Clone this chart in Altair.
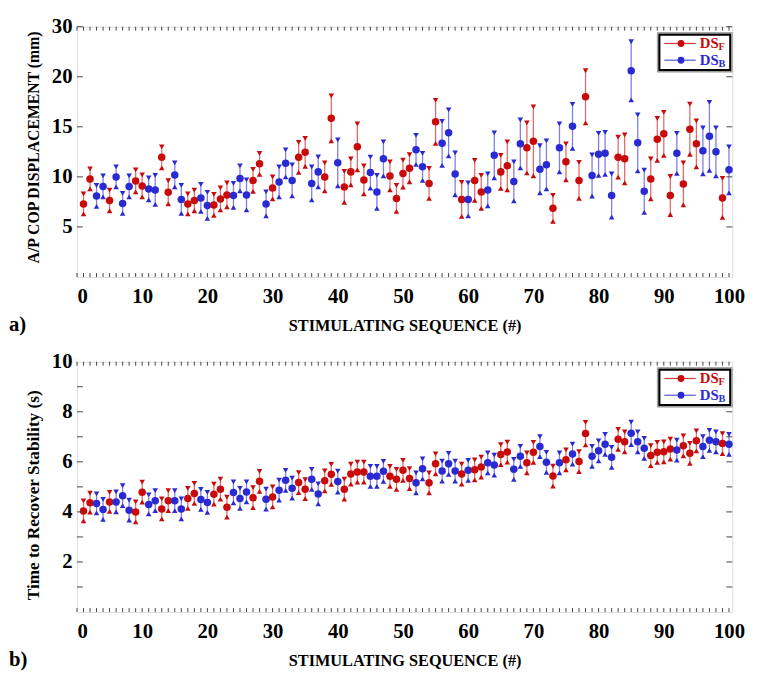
import altair as alt
import pandas as pd

# ---------------- data ----------------
seq = list(range(1, 101))
group = list("FFBBFBBBFFBBFFBBFFBBFFFBBBFFBFBBBFFBBFFBFFFFBBBFFFFBBFFBBBFBFFBBFFBBFFBBFBFBFFBBBBFFBBBFFFFBFFFBBBFB")

cop_mean = [7.3, 9.8, 8.1, 9.05, 7.65, 10.0, 7.35, 9.05, 9.6, 9.1,
            8.8, 8.7, 11.95, 8.46, 10.2, 7.75, 7.3, 7.65, 7.9, 7.15,
            7.2, 7.8, 8.2, 8.15, 9.85, 8.2, 9.65, 11.3, 7.3, 8.9,
            9.5, 11.35, 9.65, 11.95, 12.45, 9.35, 10.5, 10.0, 15.85, 11.4,
            9.0, 10.5, 13.0, 9.7, 10.43, 8.5, 11.8, 10.1, 7.85, 10.33,
            10.86, 12.7, 11.0, 9.35, 15.5, 13.35, 14.4, 10.3, 7.75, 7.75,
            9.65, 8.5, 8.7, 12.15, 10.5, 11.1, 9.55, 13.3, 12.9, 13.55,
            10.76, 11.2, 6.86, 12.9, 11.5, 15.05, 9.65, 18.0, 10.14, 12.25,
            12.35, 8.14, 11.97, 11.8, 20.6, 13.4, 8.56, 9.8, 13.75, 14.3,
            8.14, 12.35, 9.3, 14.76, 13.3, 12.6, 14.05, 12.5, 7.9, 10.7]
cop_err = [1.0, 1.0, 1.05, 1.05, 1.03, 1.0, 1.0, 1.05, 1.1, 1.1,
           1.1, 1.45, 1.05, 1.15, 1.2, 1.4, 1.0, 1.03, 1.35, 1.3,
           1.05, 1.1, 1.2, 1.2, 1.25, 1.5, 1.1, 1.05, 1.2, 1.1,
           1.5, 1.35, 1.55, 1.5, 1.4, 1.65, 1.5, 1.4, 2.25, 2.3,
           1.55, 1.3, 2.3, 1.4, 1.55, 1.65, 1.7, 1.4, 1.3, 1.35,
           1.35, 1.45, 1.35, 1.5, 2.15, 2.2, 2.3, 2.1, 1.7, 1.65,
           2.0, 1.65, 1.6, 2.25, 1.65, 2.4, 1.95, 2.4, 2.5, 3.45,
           2.35, 2.4, 1.3, 2.4, 1.8, 2.2, 1.8, 2.6, 2.05, 2.1,
           2.1, 2.15, 2.0, 2.4, 2.9, 2.8, 2.1, 2.0, 2.1, 2.15,
           1.9, 2.0, 2.1, 2.5, 2.3, 2.3, 3.4, 2.4, 1.95, 2.3]

time_mean = [4.04, 4.37, 4.34, 4.1, 4.4, 4.4, 4.65, 4.07, 4.0, 4.79,
             4.3, 4.45, 4.12, 4.45, 4.45, 4.12, 4.54, 4.74, 4.5, 4.38,
             4.71, 4.91, 4.19, 4.78, 4.54, 4.8, 4.57, 5.22, 4.51, 4.6,
             4.87, 5.26, 4.95, 5.17, 4.91, 5.3, 4.72, 5.24, 5.5, 5.21,
             4.91, 5.51, 5.59, 5.59, 5.42, 5.42, 5.62, 5.42, 5.3, 5.66,
             5.33, 5.16, 5.72, 5.16, 5.92, 5.63, 5.92, 5.63, 5.51, 5.66,
             5.68, 5.79, 5.96, 5.87, 6.29, 6.39, 5.7, 6.22, 5.96, 6.38,
             6.61, 5.98, 5.43, 5.96, 6.08, 6.31, 6.01, 7.13, 6.22, 6.44,
             6.7, 6.18, 6.9, 6.8, 7.14, 6.8, 6.54, 6.25, 6.38, 6.4,
             6.51, 6.47, 6.64, 6.34, 6.84, 6.61, 6.86, 6.8, 6.73, 6.7]
time_err = [0.4, 0.38, 0.38, 0.4, 0.38, 0.4, 0.4, 0.4, 0.4, 0.4,
            0.38, 0.4, 0.4, 0.4, 0.4, 0.4, 0.4, 0.4, 0.4, 0.4,
            0.4, 0.4, 0.4, 0.42, 0.4, 0.4, 0.4, 0.4, 0.4, 0.4,
            0.4, 0.4, 0.4, 0.4, 0.38, 0.4, 0.4, 0.4, 0.4, 0.42,
            0.4, 0.4, 0.4, 0.4, 0.4, 0.4, 0.4, 0.4, 0.4, 0.4,
            0.4, 0.4, 0.4, 0.4, 0.4, 0.4, 0.42, 0.4, 0.4, 0.4,
            0.4, 0.4, 0.4, 0.4, 0.4, 0.4, 0.4, 0.4, 0.4, 0.4,
            0.4, 0.4, 0.4, 0.4, 0.4, 0.4, 0.4, 0.45, 0.4, 0.4,
            0.4, 0.4, 0.4, 0.4, 0.45, 0.4, 0.4, 0.4, 0.4, 0.4,
            0.4, 0.4, 0.4, 0.4, 0.4, 0.4, 0.4, 0.4, 0.4, 0.4]

x_labels = [0, 10, 20, 30, 40, 50, 60, 70, 80, 90, 100]
x_minor = list(range(0, 101))
cop_ticks = [5, 10, 15, 20, 25]
time_labels = [2, 4, 6, 8, 10]
time_minor = list(range(1, 10))

RED = "#C80A0A"
BLUE = "#2A2AD2"
FONT = "Liberation Serif"
W, H = 665, 254


def panel(mean, err, ydom, ylabels, yminor, ytitle, title_y, title_size, letter, label_expr=None):
    df = pd.DataFrame({"seq": seq, "mean": mean, "err": err,
                       "grp": ["DS_F" if g == "F" else "DS_B" for g in group]})
    df["lo"] = df["mean"] - df["err"]
    df["hi"] = df["mean"] + df["err"]

    xs = alt.Scale(domain=[0, 100.5], nice=False, zero=False)
    ys = alt.Scale(domain=ydom, nice=False)
    color = alt.Color("grp:N", scale=alt.Scale(domain=["DS_F", "DS_B"], range=[RED, BLUE]), legend=None)

    yaxis_kwargs = dict(values=ylabels, ticks=False, domain=False, grid=False,
                        labelFont=FONT, labelFontWeight="bold", labelFontSize=21, labelPadding=5,
                        labelColor="black",
                        title=ytitle, titleFont=FONT, titleFontWeight="bold", titleFontSize=title_size,
                        titleColor="black", titleAngle=270, titleX=-44, titleY=title_y,
                        titleAlign="center", titleBaseline="middle")
    if label_expr:
        yaxis_kwargs["labelExpr"] = label_expr

    base = alt.Chart(df)
    x_enc = alt.X("seq:Q", scale=xs,
                  axis=alt.Axis(values=x_labels, ticks=False, domain=False, grid=False,
                                labelFont=FONT, labelFontWeight="bold", labelFontSize=21,
                                labelPadding=9, labelColor="black",
                                title="STIMULATING SEQUENCE (#)", titleFont=FONT,
                                titleFontWeight="bold", titleFontSize=16.5, titleColor="black",
                                titlePadding=11))
    rules = base.mark_rule(strokeWidth=1.3, opacity=0.6).encode(
        x=x_enc, y=alt.Y("lo:Q", scale=ys, axis=alt.Axis(**yaxis_kwargs)), y2="hi:Q", color=color)
    top_cap = base.mark_point(shape="triangle-down", filled=True, size=32, opacity=1).encode(
        x=alt.X("seq:Q", scale=xs), y=alt.Y("hi:Q", scale=ys), color=color)
    bot_cap = base.mark_point(shape="triangle-up", filled=True, size=32, opacity=1).encode(
        x=alt.X("seq:Q", scale=xs), y=alt.Y("lo:Q", scale=ys), color=color)
    dots = base.mark_point(shape="circle", filled=True, size=58, opacity=1).encode(
        x=alt.X("seq:Q", scale=xs), y=alt.Y("mean:Q", scale=ys), color=color)

    # inward ticks
    xt = alt.Chart(pd.DataFrame({"t": x_minor}))
    xt_bot = xt.mark_rule(color="#444", strokeWidth=1).encode(
        x=alt.X("t:Q", scale=xs), y=alt.value(H), y2=alt.value(H - 4))
    xt_top = xt.mark_rule(color="#444", strokeWidth=1).encode(
        x=alt.X("t:Q", scale=xs), y=alt.value(0), y2=alt.value(4))
    yt = alt.Chart(pd.DataFrame({"t": yminor}))
    yt_left = yt.mark_rule(color="#444", strokeWidth=1).encode(
        y=alt.Y("t:Q", scale=ys), x=alt.value(0), x2=alt.value(6))
    yt_right = yt.mark_rule(color="#444", strokeWidth=1).encode(
        y=alt.Y("t:Q", scale=ys), x=alt.value(W - 6), x2=alt.value(W))

    # custom legend
    one = alt.Chart(pd.DataFrame({"a": [0]}))
    box_outer = one.mark_rect(fill="white", stroke="#999", strokeWidth=1).encode(
        x=alt.value(589), x2=alt.value(665), y=alt.value(6), y2=alt.value(46))
    box = one.mark_rect(fill="white", stroke="black", strokeWidth=2.2).encode(
        x=alt.value(591), x2=alt.value(663), y=alt.value(8), y2=alt.value(44))
    leg = [box_outer, box]
    for row_y, col, sub in [(17, RED, "F"), (34, BLUE, "B")]:
        leg.append(one.mark_rule(color=col, strokeWidth=1.2, opacity=0.8).encode(
            x=alt.value(596), x2=alt.value(628), y=alt.value(row_y)))
        leg.append(one.mark_point(shape="circle", filled=True, size=48, color=col, opacity=1).encode(
            x=alt.value(613), y=alt.value(row_y)))
        leg.append(one.mark_text(align="left", baseline="middle", font=FONT, fontWeight="bold",
                                 fontSize=15, color=col).encode(
            x=alt.value(632), y=alt.value(row_y), text=alt.value("DS")))
        leg.append(one.mark_text(align="left", baseline="middle", font=FONT, fontWeight="bold",
                                 fontSize=10.5, color=col).encode(
            x=alt.value(651), y=alt.value(row_y + 4), text=alt.value(sub)))

    letter_txt = one.mark_text(align="left", baseline="middle", font=FONT, fontWeight="bold",
                               fontSize=21, color="black").encode(
        x=alt.value(-69), y=alt.value(H + 49), text=alt.value(letter))

    return alt.layer(rules, top_cap, bot_cap, dots, xt_bot, xt_top, yt_left, yt_right,
                     *leg, letter_txt).properties(width=W, height=H)


top = panel(cop_mean, cop_err, [0, 25], cop_ticks, cop_ticks,
            "A/P COP DISPLACEMENT (mm)", 122, 16, "a)",
            label_expr="datum.value == 25 ? '30' : datum.label")
bottom = panel(time_mean, time_err, [0, 10], time_labels, time_minor,
               "Time to Recover Stability (s)", 135, 17.5, "b)")

chart = alt.vconcat(top, bottom, spacing=86, bounds="flush").properties(
    autosize=alt.AutoSizeParams(type="pad"),
    padding={"left": 0, "top": 2, "right": 4, "bottom": 4},
).configure_view(stroke="#444", strokeWidth=1.2).configure(background="white")

chart.save("out.html", embed_options={"renderer": "svg", "actions": False})
